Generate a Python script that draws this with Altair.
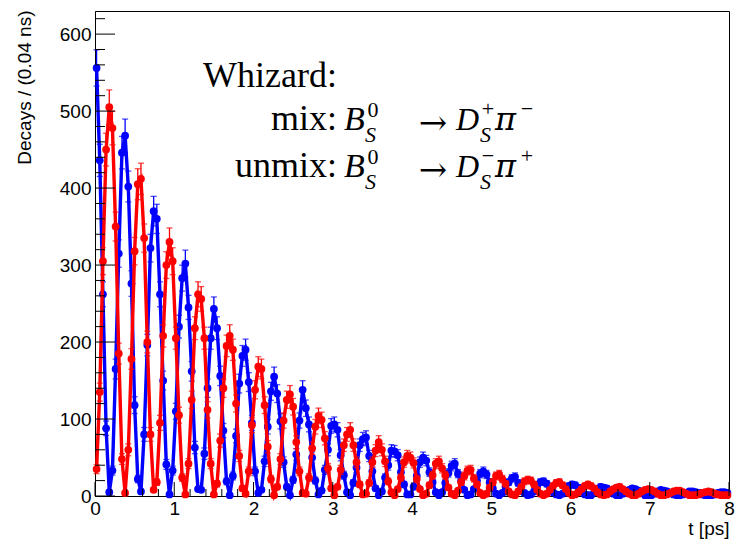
import altair as alt
import pandas as pd

# Decay-time histogram: 200 bins of 0.04 ps from 0 to 8 ps
bin_width = 0.04

# unmixed decays  B_s^0 -> D_s^- pi^+  (counts per bin)
unmix_counts = [
    556, 436, 262, 88, 5, 33, 165, 315, 446, 468,
    402, 276, 118, 22, 6, 80, 196, 322, 370, 360,
    262, 150, 41, 2, 33, 110, 220, 283, 302, 245,
    162, 63, 9, 8, 55, 140, 205, 243, 218, 156,
    85, 19, 1, 26, 78, 146, 182, 190, 148, 95,
    32, 4, 8, 45, 90, 136, 155, 133, 97, 44,
    12, 1, 21, 54, 98, 138, 114, 93, 50, 20,
    2, 7, 34, 60, 91, 93, 86, 53, 27, 5,
    1, 17, 37, 66, 74, 76, 52, 32, 10, 1,
    6, 24, 40, 59, 58, 53, 31, 15, 2, 2,
    12, 26, 44, 50, 46, 31, 18, 5, 1, 5,
    17, 30, 39, 42, 29, 20, 8, 1, 2, 9,
    20, 29, 32, 28, 18, 10, 3, 1, 4, 12,
    18, 23, 25, 17, 12, 4, 1, 2, 6, 13,
    18, 19, 16, 12, 5, 2, 1, 3, 8, 13,
    15, 14, 11, 7, 2, 1, 1, 5, 9, 12,
    11, 10, 7, 3, 1, 1, 3, 6, 8, 10,
    9, 7, 4, 1, 1, 1, 3, 6, 8, 7,
    6, 4, 2, 1, 1, 2, 4, 6, 6, 5,
    4, 2, 1, 1, 1, 2, 4, 5, 5, 4,
]

# mixed decays  B_s^0 -> D_s^+ pi^-  (counts per bin)
mix_counts = [
    35, 135, 305, 450, 505, 478, 350, 185, 48, 4,
    60, 178, 318, 405, 412, 335, 200, 80, 8, 18,
    95, 208, 300, 330, 305, 205, 105, 24, 2, 42,
    125, 218, 262, 256, 205, 112, 42, 2, 16, 72,
    140, 195, 208, 190, 120, 52, 10, 3, 32, 92,
    138, 168, 165, 118, 64, 22, 1, 12, 48, 98,
    125, 132, 116, 70, 32, 4, 3, 24, 62, 90,
    104, 99, 75, 36, 10, 1, 12, 34, 66, 80,
    86, 66, 44, 15, 2, 3, 17, 44, 59, 70,
    60, 45, 19, 5, 1, 9, 24, 44, 52, 50,
    43, 22, 9, 1, 3, 14, 27, 42, 45, 36,
    27, 11, 3, 1, 7, 18, 26, 33, 34, 23,
    15, 4, 1, 3, 11, 18, 26, 28, 22, 16,
    6, 2, 1, 6, 12, 19, 21, 20, 15, 8,
    3, 1, 3, 8, 13, 17, 18, 14, 9, 4,
    1, 2, 5, 9, 13, 15, 13, 10, 5, 2,
    1, 2, 6, 9, 11, 12, 9, 6, 3, 1,
    1, 3, 6, 8, 9, 8, 6, 3, 1, 1,
    2, 4, 6, 7, 7, 5, 3, 1, 1, 1,
    2, 4, 5, 6, 5, 3, 2, 1, 1, 1,
]

# axis tick values
x_major = [0, 1, 2, 3, 4, 5, 6, 7, 8]
x_minor = [round(0.2 * i, 1) for i in range(41) if i % 5 != 0]
y_major = [0, 100, 200, 300, 400, 500, 600]
y_minor = [v for v in range(20, 640, 20) if v % 100 != 0]

W, H = 634, 485
FONT = "Liberation Sans"
SERIF = "Liberation Serif"

centres = [round(bin_width * (i + 0.5), 3) for i in range(len(unmix_counts))]


def table(counts):
    rows = []
    for t, n in zip(centres, counts):
        e = n ** 0.5
        rows.append({"t": t, "n": n, "lo": n - e, "hi": n + e})
    return pd.DataFrame(rows)


xscale = alt.Scale(domain=[0, 8], nice=False, zero=False)
yscale = alt.Scale(domain=[0, 630], nice=False, zero=True)

xaxis = alt.Axis(
    values=x_major, ticks=False, grid=False, labelFontSize=19, labelFont=FONT,
    labelColor="black", labelPadding=3, labelFlush=False, labelOverlap=False,
    domainColor="black", title="t [ps]", titleFont=FONT, titleFontSize=19,
    titleFontWeight="normal", titleColor="black", titleAnchor="end",
    titleAlign="right", titleX=W, titleY=38, titleBaseline="alphabetic",
)
yaxis = alt.Axis(
    values=y_major, ticks=False, grid=False, labelFontSize=19, labelFont=FONT,
    labelColor="black", labelPadding=4, labelOverlap=False, domainColor="black",
    title="Decays / (0.04 ns)", titleFont=FONT, titleFontSize=19,
    titleFontWeight="normal", titleColor="black", titleAngle=-90,
    titleAlign="right", titleBaseline="middle", titleX=-71, titleY=-1,
)


def xenc(field):
    return alt.X(field, scale=xscale, axis=xaxis)


def yenc(field):
    return alt.Y(field, scale=yscale, axis=yaxis)


def series(counts, color):
    base = alt.Chart(table(counts))
    line = base.mark_line(color=color, strokeWidth=3.4, strokeJoin="miter").encode(
        x=xenc("t:Q"), y=yenc("n:Q")
    )
    bars = base.mark_rule(color=color, strokeWidth=1.3).encode(
        x=xenc("t:Q"), y=yenc("lo:Q"), y2="hi:Q"
    )
    caps = [
        base.mark_tick(color=color, size=6, thickness=1.3, orient="horizontal").encode(
            x=xenc("t:Q"), y=yenc(f"{f}:Q")
        )
        for f in ("lo", "hi")
    ]
    dots = base.mark_circle(color=color, size=60, opacity=1).encode(
        x=xenc("t:Q"), y=yenc("n:Q")
    )
    return [line, bars] + caps + [dots]


def yticks(values, length):
    return alt.Chart(pd.DataFrame({"v": values})).mark_rule(color="black", strokeWidth=1).encode(
        y=yenc("v:Q"), x=alt.value(0), x2=alt.value(length)
    )


def xticks(values, length):
    return alt.Chart(pd.DataFrame({"v": values})).mark_rule(color="black", strokeWidth=1).encode(
        x=xenc("v:Q"), y=alt.value(H), y2=alt.value(H - length)
    )


def txt(s, x, y, size, font=SERIF, style="normal", align="left", baseline="alphabetic"):
    return alt.Chart(pd.DataFrame({"a": [0]})).mark_text(
        text=s, font=font, fontSize=size, fontStyle=style, align=align,
        baseline=baseline, color="black",
    ).encode(x=alt.value(x), y=alt.value(y))


def decay_line(label, y, d_sign, pi_sign):
    return [
        txt(label, 242, y, 36, align="right"),
        txt("B", 249, y, 34, style="italic"),
        txt("0", 278, y - 13, 22, align="center"),
        txt("S", 270, y + 12, 22, style="italic"),
        txt("\u2192", 338, y - 6, 34, font="DejaVu Serif", align="center", baseline="middle"),
        txt("D", 361, y, 32, style="italic"),
        txt(d_sign, 393, y - 14, 22, align="center"),
        txt("S", 385, y + 12, 22, style="italic"),
        txt("\u03c0", 400, y, 32, font="DejaVu Serif", style="italic"),
        txt(pi_sign, 432, y - 14, 22, align="center"),
    ]


labels = [txt("Whizard:", 108, 76, 36)]
labels += decay_line("mix:", 119, "+", "\u2212")
labels += decay_line("unmix:", 166, "\u2212", "+")

layers = (
    series(unmix_counts, "#0000ff")
    + series(mix_counts, "#ff0000")
    + [yticks(y_major, 20), yticks(y_minor, 10), xticks(x_major, 14), xticks(x_minor, 7)]
    + labels
)

chart = (
    alt.layer(*layers)
    .properties(
        width=W,
        height=H,
        autosize=alt.AutoSizeParams(type="none"),
        padding={"left": 95, "top": 11, "right": 7, "bottom": 43},
        background="white",
    )
    .configure_view(stroke="black", strokeWidth=1)
)

chart.save("out.html", embed_options={"renderer": "svg", "actions": False})
